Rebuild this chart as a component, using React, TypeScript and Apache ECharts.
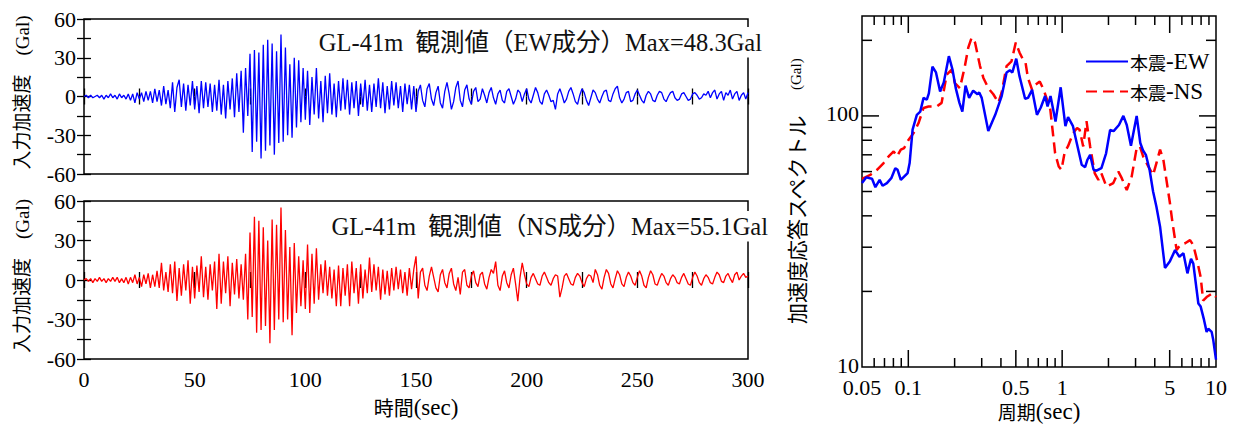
import React, { useEffect, useRef } from 'react';
import * as echarts from 'echarts';

// ---------- data ----------
const timeStepSec = 1;
const timeMax = 300;

// EW acceleration (Gal), sampled every second, 0..300 s
const ewWave = [
  0, 1, -1, 1, -1, 0, 1, -1, 1, -2,
  1, -1, 2, -1, 1, -2, 2, -1, 1, -2,
  2, -3, 2, -5, 3, -2, 3, -4, 4, -3,
  4, -5, 6, -4, 5, -7, 8, -6, 5, -9,
  11, -12, 7, 13, -8, 10, -11, 9, -7, 12,
  -10, 8, -13, 12, -9, 11, -8, 10, -12, 9,
  -11, 13, -14, 9, -17, 12, -10, 14, -16, 18,
  -12, 20, -28, 22, -15, 33, -43, 36, -35, 34,
  -48, 40, -42, 44, -38, 41, -45, 35, -36, 48,
  -35, 38, -30, 25, -32, 30, -24, 28, -20, 22,
  -18, 20, -22, 15, -14, 22, -17, 12, -20, 16,
  -13, 18, -14, 10, -16, 12, -11, 14, -10, 13,
  -14, 11, -9, 12, -15, 10, -8, 13, -11, 9,
  -12, 10, -8, 14, -9, 11, -13, 8, -10, 12,
  -7, 11, -9, 8, -12, 10, -6, 9, -10, 8,
  -12, 4, 9, -3, -8, 6, 10, -2, -7, 3,
  8, -5, -9, 4, 11, 2, -10, -4, 7, 12,
  -3, -8, 5, 9, -2, -6, 4, 7, -4, -2,
  6, 1, -5, 3, 7, -1, -6, 2, 5, -3,
  -5, 4, 6, 0, -6, -2, 5, 3, -4, 2,
  6, -2, -5, 1, 7, 3, -4, -6, 2, 5,
  1, -4, -3, -10, 2, 6, 1, -5, -2, 4,
  7, 2, -4, -6, 1, 6, 3, -3, -7, -1,
  5, 3, -2, -5, 0, 4, 5, -3, -4, 2,
  6, 8, -1, -5, -2, 3, 4, -4, -3, 2,
  5, 1, -3, -5, 1, 4, 2, -3, -4, 1,
  4, 3, -2, -4, 0, 3, 4, -1, -3, -2,
  2, 3, 0, -3, -2, 2, 3, 1, -2, -1,
  2, 1, 4, -1, 3, 5, -2, 2, 4, -3,
  3, 1, 5, -2, 2, 4, -3, 1, 3, -2,
  3,
];

// NS acceleration (Gal), sampled every second, 0..300 s
const nsWave = [
  0, 1, -1, 1, -2, 1, -1, 2, -1, 1,
  -2, 1, -1, 2, -1, 2, -2, 1, -2, 2,
  -3, 2, -2, 4, -3, 2, -5, 4, -3, 5,
  -6, 4, -5, 7, -6, 13, -8, 6, -9, 12,
  -10, 14, -16, 9, -12, 12, -8, 15, -18, 10,
  -14, 11, -9, 18, -13, 10, -15, 12, -8, 14,
  -22, 20, -18, 14, -10, 18, -20, 13, -11, 16,
  -14, 12, -15, 20, -30, 36, -28, 48, -40, 45,
  -38, 40, -35, 30, -48, 46, -38, 42, -30, 55,
  -32, 38, -30, 25, -42, 28, -25, 18, -20, 15,
  -22, 27, -25, 20, -18, 24, -15, 12, -10, 15,
  -12, 10, -14, 8, -20, 11, -20, 9, -12, 12,
  -20, 14, -10, 9, -18, 12, -14, 8, -10, 17,
  -9, 12, -8, 10, -15, 8, -11, 7, -12, 9,
  -8, 10, -7, 8, -10, 6, -12, 9, -7, 8,
  18, -14, 6, 9, -4, -8, 3, 10, 2, -6,
  -9, 4, 8, -2, -6, 5, 9, -3, -8, 2,
  -11, 6, 8, -4, -6, 3, 7, -2, -5, 4,
  6, -3, -7, 2, 8, 5, 14, -4, -8, 3,
  7, -2, -6, 4, 9, -3, -16, 2, 13, 4,
  -3, -5, 2, 5, 1, -3, -4, 3, 6, 2,
  -2, -4, 1, 4, 3, -13, -6, 3, 5, 1,
  -3, -4, 2, 5, 3, -2, -5, 1, 4, 3,
  -2, 8, 4, -4, -7, 2, 8, 5, -3, -6,
  1, 7, 4, -3, -5, 2, 6, 3, -2, -4,
  2, 7, 3, -4, -6, 2, 7, 4, -3, -4,
  1, 5, 3, -2, -4, 1, 4, 2, -2, -3,
  2, 5, 1, -3, -4, 2, 6, 3, -2, -4,
  1, 4, 2, -2, -3, 2, 6, 4, -1, -2,
  3, 5, 1, -2, 4, 6, 0, 3, 5, 2,
  3,
];

const waveTicks = [60, 30, 0, -30, -60];
const timeTicks = [0, 50, 100, 150, 200, 250, 300];

const ewTitle = 'GL-41m  観測値（EW成分）Max=48.3Gal';
const nsTitle = 'GL-41m  観測値（NS成分）Max=55.1Gal';
const waveAxisName = '入力加速度　(Gal)';

// response spectra
const ewPeriod = [
  0.05, 0.0532, 0.0581, 0.0611, 0.0651, 0.068, 0.0726, 0.0775, 0.0823, 0.0852,
  0.0894, 0.099, 0.102, 0.1066, 0.1136, 0.1196, 0.1256, 0.1319, 0.136, 0.1435,
  0.1513, 0.161, 0.17, 0.1835, 0.1937, 0.2034, 0.2147, 0.2245, 0.2355, 0.2485,
  0.264, 0.2817, 0.289, 0.3, 0.331, 0.3672, 0.4045, 0.4353, 0.457, 0.4747,
  0.5031, 0.528, 0.5743, 0.6, 0.6378, 0.6857, 0.7263, 0.7745, 0.8041, 0.8402,
  0.9055, 0.978, 1.05, 1.0924, 1.1755, 1.244, 1.34, 1.41, 1.46, 1.52,
  1.6, 1.67, 1.8, 1.93, 2.05, 2.16, 2.34, 2.5, 2.63, 2.8,
  3.05, 3.22, 3.35, 3.5, 3.7, 3.9, 4.1, 4.33, 4.66, 5.02,
  5.42, 5.78, 6.14, 6.52, 6.88, 7.12, 7.68, 7.95, 8.36, 8.69,
  8.91, 9.37, 9.6, 10.0,
];
const ewSpectrum = [
  54, 56.9, 56.2, 52, 55.6, 52.7, 54, 56.5, 61.9, 61,
  55.6, 59.2, 64.9, 88.2, 101, 104, 118, 116, 123, 157,
  149, 125, 136, 173, 153, 129, 113, 104, 132, 118,
  126, 122, 124, 118, 87, 101, 120, 149, 152, 149,
  169, 144, 117, 118, 127, 101, 108, 120, 109, 120,
  95, 130, 91, 99, 91, 78, 63.9, 62.5, 66.9, 70,
  61, 60.5, 62, 71, 88, 87, 92, 100, 92, 76,
  100, 78, 73, 70, 61, 50, 43.5, 36.2, 24.8, 26.4,
  29.2, 27.5, 28.4, 23.6, 27, 25.8, 17.9, 17.4, 15.4, 13.8,
  14.2, 13.8, 12.8, 10.7,
];
const nsPeriod = [
  0.05, 0.0566, 0.0626, 0.0691, 0.0745, 0.0803, 0.0844, 0.0894, 0.094, 0.1005,
  0.1083, 0.1167, 0.1256, 0.1352, 0.1528, 0.1646, 0.1776, 0.1913, 0.2009, 0.2165,
  0.2333, 0.2453, 0.258, 0.2714, 0.2925, 0.3072, 0.331, 0.357, 0.385, 0.4045,
  0.4353, 0.4685, 0.4995, 0.528, 0.5556, 0.578, 0.5986, 0.6378, 0.6707, 0.7153,
  0.7593, 0.8377, 0.9, 0.95, 0.99, 1.04, 1.09, 1.18, 1.25, 1.3,
  1.37, 1.44, 1.52, 1.63, 1.72, 1.8, 1.94, 2.15, 2.32, 2.44,
  2.63, 2.83, 3.05, 3.2, 3.36, 3.63, 3.9, 4.1, 4.33, 4.55,
  4.78, 5.02, 5.2, 5.55, 5.84, 6.3, 6.78, 7.12, 7.49, 7.95,
  8.25, 8.69, 9.51, 10.0,
];
const nsSpectrum = [
  56.1, 58.2, 61, 64.9, 69, 72.2, 69, 73.4, 74.5, 80.4,
  85.5, 93.8, 107.6, 109, 109, 112.7, 146, 153, 135, 129,
  158, 187, 205, 196, 158, 142, 129, 122, 113, 124,
  158, 165, 196, 179, 168, 163, 142, 127, 133, 137,
  127, 106, 71, 62.9, 61, 72, 75.6, 85.5, 89.5, 88,
  75.6, 95.2, 75.6, 59, 55.6, 59, 52.3, 54, 60, 56.5,
  50.7, 57.3, 74.5, 75.6, 69, 63, 58.2, 64.9, 73.4, 66.8,
  54.8, 44.9, 38, 29.2, 30.6, 31.1, 32, 30.6, 27, 22.8,
  18.4, 19.0, 19.7, 19.0,
];

const specXMin = 0.05;
const specXMax = 10;
const specYMin = 10;
const specYMax = 250;
const specXMajorTicks = [0.1, 0.5, 1, 5];
const specXMinorTicks = [0.06, 0.07, 0.08, 0.09, 0.2, 0.3, 0.4, 0.6, 0.7, 0.8, 0.9, 2, 3, 4, 6, 7, 8, 9];
const specXLabels = [0.05, 0.1, 0.5, 1, 5, 10];
const specYMajorTicks = [100];
const specYMinorTicks = [20, 30, 40, 50, 60, 70, 80, 90, 200];
const specYLabels = [10, 100];

const legendNames = ['本震-EW', '本震-NS'];

// ---------- styles ----------
const SERIF = 'Liberation Serif';
const TITLE_FONT = "'Liberation Serif', 'Noto Sans CJK JP', serif";
const CJK = 'Noto Sans CJK JP';
const INK = '#000';

function buildOption(): any {
  const ewData = ewWave.map((v, i) => [i * timeStepSec, v]);
  const nsData = nsWave.map((v, i) => [i * timeStepSec, v]);

  const gridBase = { show: true, borderColor: INK, borderWidth: 1.5, backgroundColor: 'transparent' };

  const latin = (size: number) => ({ fontFamily: SERIF, fontSize: size, fontWeight: 'normal', fontStyle: 'normal', color: INK });
  const kanji = (size: number) => ({ fontFamily: CJK, fontSize: size, fontWeight: 'normal', fontStyle: 'normal', color: INK });

  const timeAxis = (gridIndex: number, position: string, labels: boolean, name?: string) => ({
    type: 'value',
    gridIndex,
    position,
    min: 0,
    max: timeMax,
    interval: 25,
    axisLine: { show: false },
    axisTick: { show: true, inside: true, length: 8, lineStyle: { color: INK, width: 1.3 } },
    splitLine: { show: false },
    axisLabel: {
      show: labels,
      margin: 9,
      ...latin(22),
      formatter: (v: number) => (timeTicks.includes(v) ? String(v) : ''),
    },
    name: name || '',
    nameLocation: 'middle',
    nameGap: 37,
    nameTextStyle: { rich: { c: kanji(20), l: latin(23) } },
  });

  const accAxis = (gridIndex: number, position: string, labels: boolean) => ({
    type: 'value',
    gridIndex,
    position,
    min: -60,
    max: 60,
    interval: 15,
    axisLine: { show: false },
    axisTick: { show: true, inside: true, length: 7, lineStyle: { color: INK, width: 1.3 } },
    splitLine: { show: false },
    axisLabel: {
      show: labels,
      margin: 8,
      ...latin(22),
      formatter: (v: number) => (waveTicks.includes(v) ? String(v) : ''),
    },
    name: labels ? waveAxisName : '',
    nameLocation: 'middle',
    nameGap: 52,
    nameTextStyle: {
      fontFamily: TITLE_FONT,
      fontSize: 19,
      fontWeight: 'normal',
      color: INK,
      padding: [0, 0, 0, 8],
    },
  });

  const tickLine = (x1: number, y1: number, x2: number, y2: number) => ({
    type: 'line',
    shape: { x1, y1, x2, y2 },
    style: { stroke: INK, lineWidth: 1.5 },
  });

  const xTickData = [
    ...specXMajorTicks.map((v) => [v, specYMin, 1]),
    ...specXMinorTicks.map((v) => [v, specYMin, 0]),
  ];
  const yTickData = [
    ...specYMajorTicks.map((v) => [specXMin, v, 1]),
    ...specYMinorTicks.map((v) => [specXMin, v, 0]),
  ];

  return {
    animation: false,
    backgroundColor: '#fff',
    title: [
      {
        text: ewTitle,
        right: 470,
        top: 27,
        backgroundColor: '#fff',
        padding: [3, 2, 3, 4],
        textStyle: { fontFamily: TITLE_FONT, fontSize: 24.5, fontWeight: 'normal', color: '#111' },
      },
      {
        text: nsTitle,
        right: 464,
        top: 211,
        backgroundColor: '#fff',
        padding: [3, 2, 3, 4],
        textStyle: { fontFamily: TITLE_FONT, fontSize: 24.5, fontWeight: 'normal', color: '#111' },
      },
    ],
    legend: {
      data: legendNames,
      orient: 'vertical',
      left: 1085,
      top: 50,
      itemWidth: 42,
      itemHeight: 14,
      itemGap: 7,
      padding: 0,
      itemStyle: { opacity: 0 },
      formatter: (name: string) => `{c|${name.slice(0, 2)}}{l|${name.slice(2)}}`,
      textStyle: {
        padding: [0, 0, 0, -3],
        rich: { c: kanji(18), l: latin(23) },
      },
    },
    grid: [
      { ...gridBase, left: 84, top: 19, width: 664, height: 155 },
      { ...gridBase, left: 84, top: 201, width: 664, height: 158 },
      { ...gridBase, left: 862, top: 16, width: 354, height: 351 },
    ],
    xAxis: [
      timeAxis(0, 'bottom', false),
      timeAxis(0, 'top', false),
      timeAxis(1, 'bottom', true, '{c|時間}{l|(sec)}'),
      timeAxis(1, 'top', false),
      {
        type: 'log',
        logBase: 10,
        gridIndex: 2,
        min: specXMin,
        max: specXMax,
        axisLine: { show: false },
        axisTick: { show: false },
        axisLabel: { show: false },
        splitLine: { show: false },
        name: '{c|周期}{l|(sec)}',
        nameLocation: 'middle',
        nameGap: 33,
        nameTextStyle: { rich: { c: kanji(19), l: latin(23) } },
      },
    ],
    yAxis: [
      accAxis(0, 'left', true),
      accAxis(0, 'right', false),
      accAxis(1, 'left', true),
      accAxis(1, 'right', false),
      {
        type: 'log',
        logBase: 10,
        gridIndex: 2,
        min: specYMin,
        max: specYMax,
        axisLine: { show: false },
        axisTick: { show: false },
        axisLabel: { show: false },
        splitLine: { show: false },
        name: '{c|加速度応答スペクトル　}{l| (Gal)}',
        nameLocation: 'middle',
        nameGap: 56,
        nameTextStyle: { rich: { c: kanji(21), l: latin(15) } },
      },
    ],
    series: [
      {
        name: 'EW波形',
        type: 'line',
        xAxisIndex: 0,
        yAxisIndex: 0,
        data: ewData,
        showSymbol: false,
        symbol: 'none',
        lineStyle: { color: '#0000ff', width: 1.3 },
        silent: true,
      },
      {
        name: 'NS波形',
        type: 'line',
        xAxisIndex: 2,
        yAxisIndex: 2,
        data: nsData,
        showSymbol: false,
        symbol: 'none',
        lineStyle: { color: '#ff0000', width: 1.3 },
        silent: true,
      },
      {
        name: legendNames[0],
        type: 'line',
        xAxisIndex: 4,
        yAxisIndex: 4,
        data: ewPeriod.map((t, i) => [t, ewSpectrum[i]]),
        symbol: 'none',
        showSymbol: false,
        color: '#0000ff',
        lineStyle: { color: '#0000ff', width: 2.5 },
        z: 4,
      },
      {
        name: legendNames[1],
        type: 'line',
        xAxisIndex: 4,
        yAxisIndex: 4,
        data: nsPeriod.map((t, i) => [t, nsSpectrum[i]]),
        symbol: 'none',
        showSymbol: false,
        color: '#ff0000',
        lineStyle: { color: '#ff0000', width: 2.5, type: [11, 6] },
        z: 3,
      },
      {
        type: 'custom',
        xAxisIndex: 4,
        yAxisIndex: 4,
        clip: false,
        silent: true,
        data: xTickData,
        renderItem: (params: any, api: any) => {
          const v = api.value(0);
          const len = api.value(2) ? 17 : 9;
          const b = api.coord([v, specYMin]);
          const t = api.coord([v, specYMax]);
          return {
            type: 'group',
            children: [tickLine(b[0], b[1], b[0], b[1] - len), tickLine(t[0], t[1], t[0], t[1] + len)],
          };
        },
      },
      {
        type: 'custom',
        xAxisIndex: 4,
        yAxisIndex: 4,
        clip: false,
        silent: true,
        data: yTickData,
        renderItem: (params: any, api: any) => {
          const v = api.value(1);
          const len = api.value(2) ? 17 : 10;
          const l = api.coord([specXMin, v]);
          const r = api.coord([specXMax, v]);
          return {
            type: 'group',
            children: [tickLine(l[0], l[1], l[0] + len, l[1]), tickLine(r[0], r[1], r[0] - len, r[1])],
          };
        },
      },
      {
        type: 'custom',
        xAxisIndex: 4,
        yAxisIndex: 4,
        clip: false,
        silent: true,
        data: specXLabels.map((v) => [v, specYMin]),
        renderItem: (params: any, api: any) => {
          const p = api.coord([api.value(0), api.value(1)]);
          return {
            type: 'text',
            x: p[0],
            y: p[1] + 9,
            style: {
              text: String(specXLabels[params.dataIndex]),
              fill: INK,
              fontFamily: SERIF,
              fontSize: 22,
              fontWeight: 'normal',
              align: 'center',
              verticalAlign: 'top',
            },
          };
        },
      },
      {
        type: 'custom',
        xAxisIndex: 4,
        yAxisIndex: 4,
        clip: false,
        silent: true,
        data: specYLabels.map((v) => [specXMin, v]),
        renderItem: (params: any, api: any) => {
          const p = api.coord([api.value(0), api.value(1)]);
          return {
            type: 'text',
            x: p[0] - 3,
            y: p[1] - 2,
            style: {
              text: String(specYLabels[params.dataIndex]),
              fill: INK,
              fontFamily: SERIF,
              fontSize: 22,
              fontWeight: 'normal',
              align: 'right',
              verticalAlign: 'middle',
            },
          };
        },
      },
    ],
  };
}

export default function App() {
  const ref = useRef<HTMLDivElement>(null);
  useEffect(() => {
    if (!ref.current) return;
    const chart = echarts.init(ref.current, null, { renderer: 'svg' });
    chart.setOption(buildOption());
    return () => chart.dispose();
  }, []);
  return (
    <div
      ref={ref}
      style={{ position: 'fixed', left: 0, top: 0, width: 1234, height: 430, background: '#fff' }}
    />
  );
}
